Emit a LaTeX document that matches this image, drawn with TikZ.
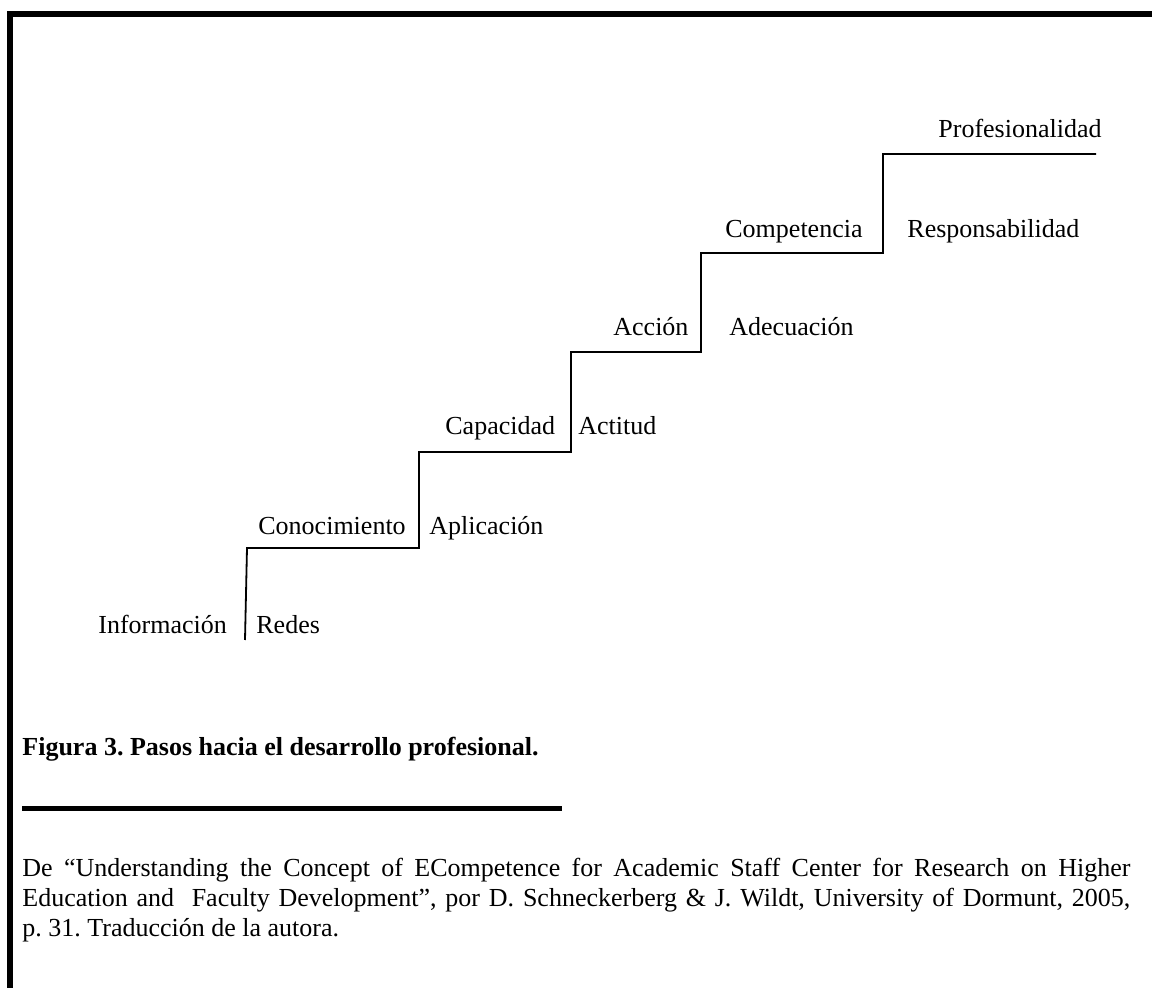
\documentclass[tikz,border=0pt]{standalone}
\usepackage{fontspec}
\setmainfont{Liberation Serif}
\usepackage{tikz}
\frenchspacing

\begin{document}
\begin{tikzpicture}[x=0.5pt, y=-0.5pt,
  paso/.style={inner sep=0pt, anchor=base west, font=\fontsize{13}{15}\selectfont}]
  \useasboundingbox (0, 0) rectangle (1152, 988);

  \draw[line width=2.8pt] (10, 988) -- (10, 14) -- (1152, 14);

  \node[paso] (Inf) at (98, 634) {Información};
  \node[paso] (Red) at (256, 634) {Redes};
  \node[paso] (Con) at (258, 535) {Conocimiento};
  \node[paso] (Apl) at (429, 535) {Aplicación};
  \node[paso] (Cap) at (445, 435) {Capacidad};
  \node[paso] (Act) at (578, 435) {Actitud};
  \node[paso] (Acc) at (613, 336) {Acción};
  \node[paso] (Ade) at (729, 336) {Adecuación};
  \node[paso] (Com) at (725, 238) {Competencia};
  \node[paso] (Res) at (907, 238) {Responsabilidad};
  \node[paso] (Pro) at (938, 138) {Profesionalidad};

  \draw[line width=0.9pt]
  (245, 640) -- (247, 548) -- (419, 548) -- (419, 452) -- (571, 452)
  -- (571, 352) -- (701, 352) -- (701, 253) -- (883, 253)
  -- (883, 154) -- (1096, 154);

  \node[paso, font=\fontsize{13}{15}\selectfont\bfseries] (Fig) at (22, 756)
  {Figura 3. Pasos hacia el desarrollo profesional.};
  \draw[line width=2.5pt] (22, 809) -- (562, 809);

  \node[paso, text width=554pt, align=justify,
  font=\fontsize{13}{15}\selectfont] (Ref) at (22, 877)
  {De “Understanding the Concept of ECompetence for Academic Staff Center for Research on Higher\linebreak
  Education and \ Faculty Development”, por D. Schneckerberg \& J. Wildt, University of Dormunt, 2005,\linebreak
  p. 31. Traducción de la autora.};
\end{tikzpicture}
\end{document}
